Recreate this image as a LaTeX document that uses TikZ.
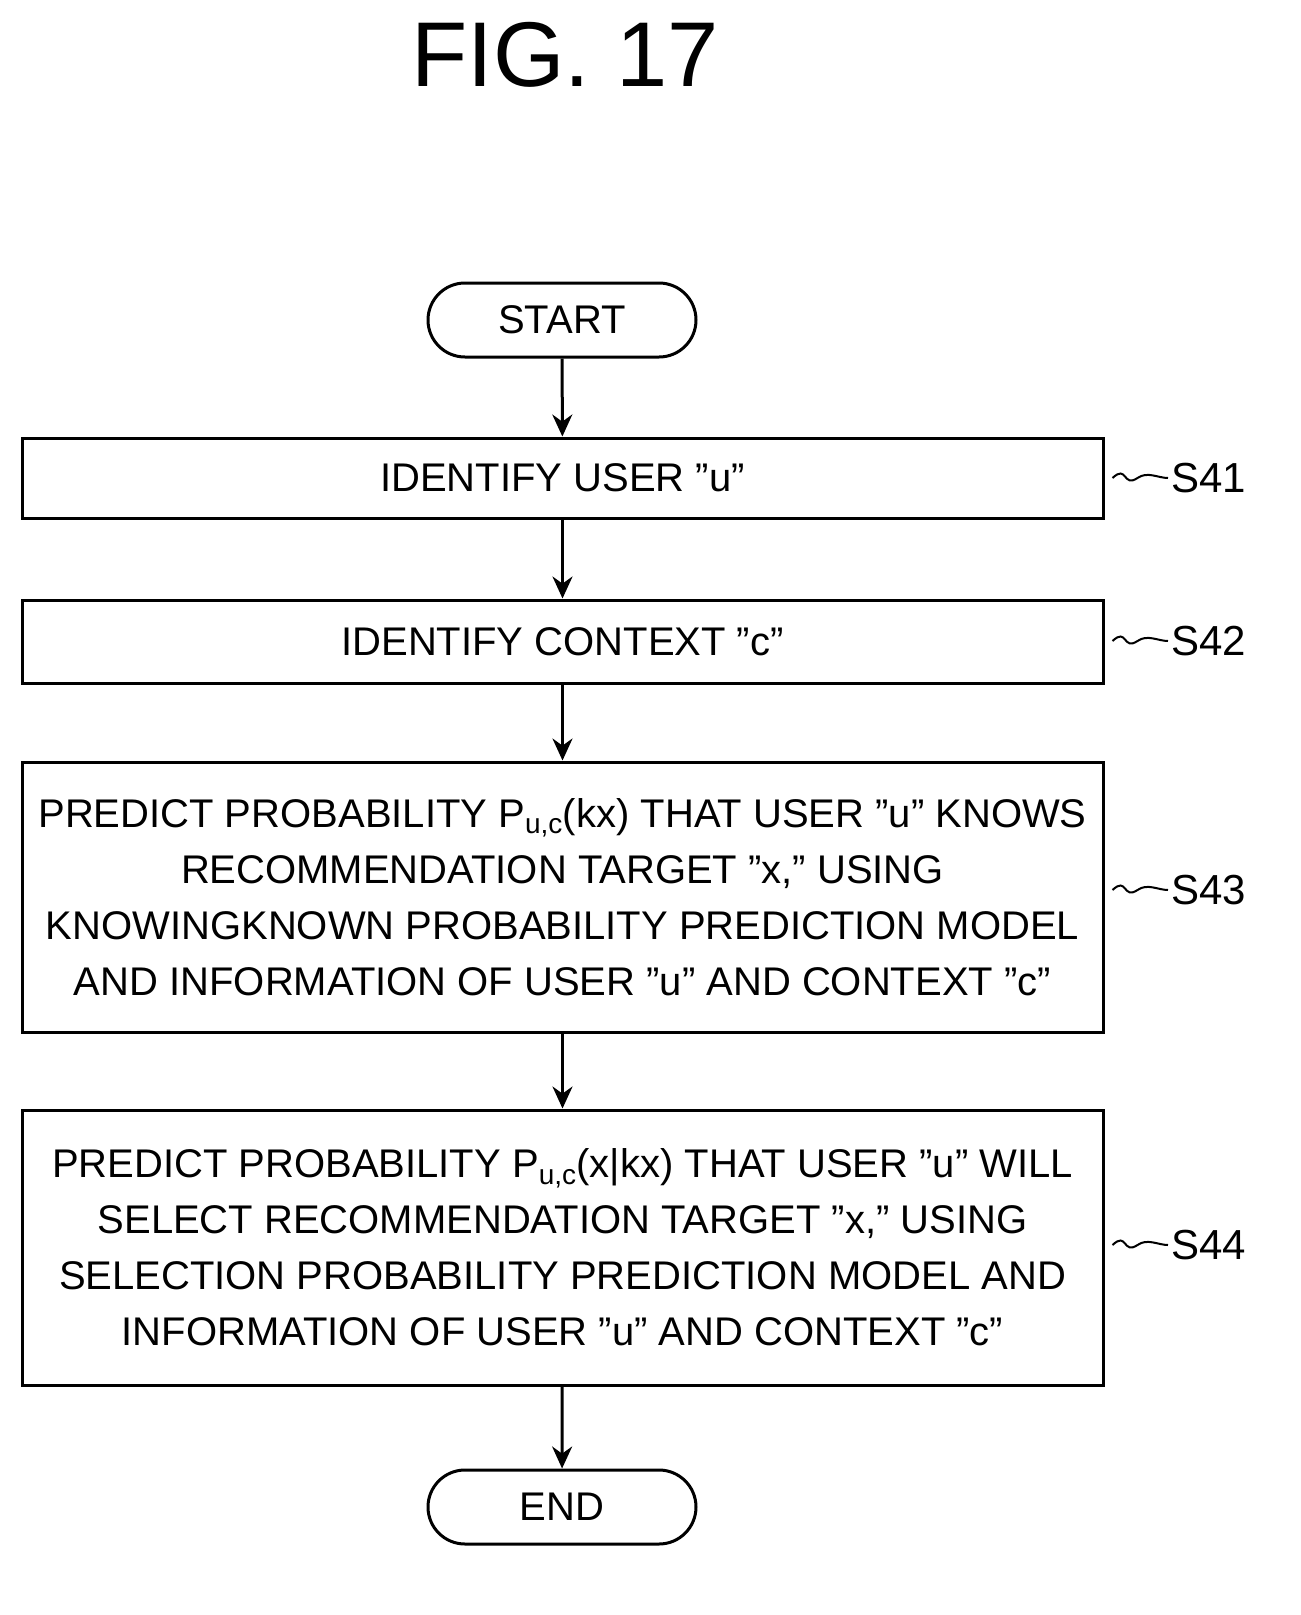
\documentclass[tikz,border=0pt]{standalone}
\usepackage{fontspec}
\setmainfont{Liberation Sans}[Ligatures=ResetAll]
\usetikzlibrary{arrows.meta}
\newcommand{\qq}{\symbol{34}}
\begin{document}
\begin{tikzpicture}[x=1pt,y=-1pt,
  box/.style={draw,line width=3pt,minimum width=1081pt,align=center,font=\fontsize{40}{56}\selectfont,inner sep=0pt},
  term/.style={draw,line width=3pt,rounded corners=37pt,minimum width=268pt,minimum height=74pt,font=\fontsize{40}{48}\selectfont},
  lab/.style={font=\fontsize{42}{48}\selectfont,anchor=west},
  arr/.style={line width=3pt,-{Stealth[length=22pt,width=20pt]}}]
\useasboundingbox (0,0) rectangle (1301,1615);
\node[font=\fontsize{92}{100}\selectfont] (title) at (565,55) {FIG. 17};
\node[term] (start) at (562,320) {START};
\node[box,minimum height=80pt] (s41) at (562.5,478) {IDENTIFY USER \qq u\qq};
\node[box,minimum height=83pt] (s42) at (562.5,641.5) {IDENTIFY CONTEXT \qq c\qq};
\node[box,minimum height=270pt] (s43) at (562.5,897) {PREDICT PROBABILITY P\textsubscript{u,c}(kx) THAT USER \qq u\qq\ KNOWS\\RECOMMENDATION TARGET \qq x,\qq\ USING\\KNOWINGKNOWN PROBABILITY PREDICTION MODEL\\AND INFORMATION OF USER \qq u\qq\ AND CONTEXT \qq c\qq};
\node[box,minimum height=275pt] (s44) at (562.5,1247.5) {PREDICT PROBABILITY P\textsubscript{u,c}(x\symbol{124}kx) THAT USER \qq u\qq\ WILL\\SELECT RECOMMENDATION TARGET \qq x,\qq\ USING\\SELECTION PROBABILITY PREDICTION MODEL AND\\INFORMATION OF USER \qq u\qq\ AND CONTEXT \qq c\qq};
\node[term] (end) at (562,1507) {END};
\foreach \a/\b in {start/s41,s41/s42,s42/s43,s43/s44,s44/end}
  \draw[arr] (\a) -- (\b);
\foreach \s/\y in {s41/478,s42/641,s43/890,s44/1245}{
  \node[lab] (l\s) at (1168,\y) {\MakeUppercase{\s}};
  \draw[line width=2pt] (\s.east |- 0,\y)++(8,0) .. controls +(15,-14) and +(-15,10) .. ++(25,0) .. controls +(10,-7) and +(-10,0) .. (l\s.west);
}
\end{tikzpicture}
\end{document}
